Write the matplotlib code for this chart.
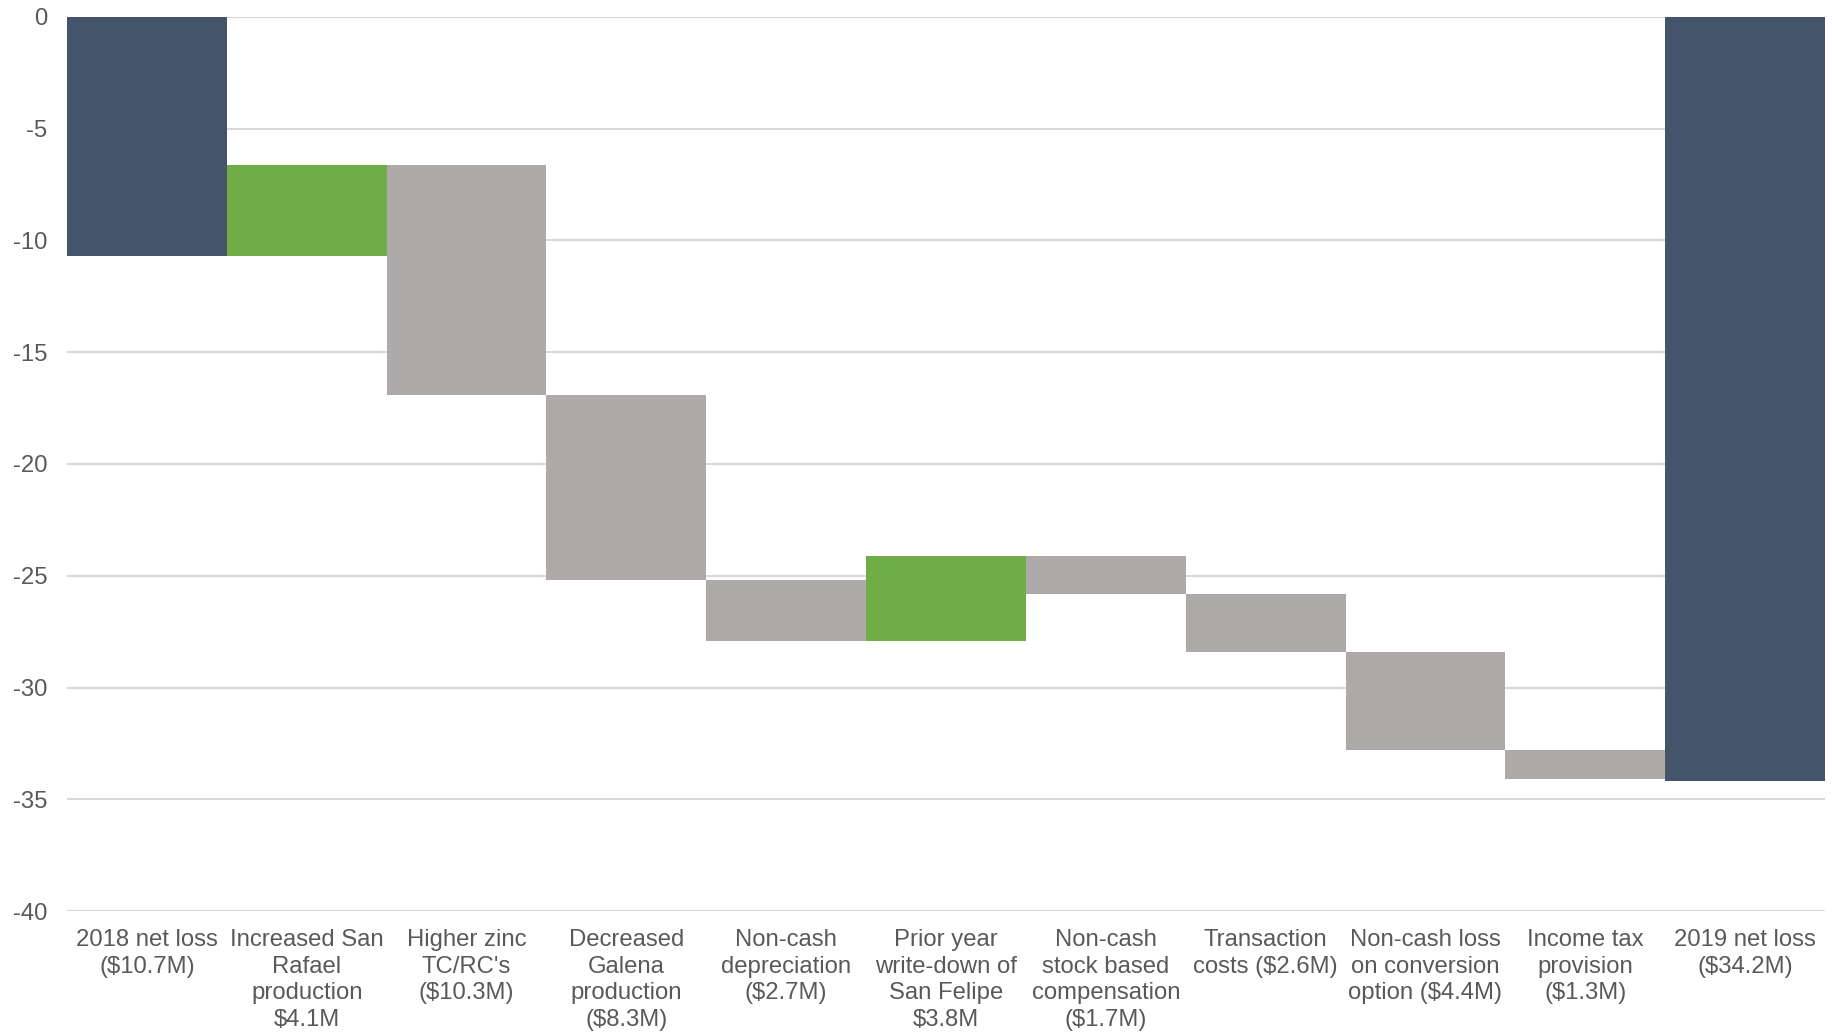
import numpy as np
import matplotlib.pyplot as plt

plt.rcParams['font.family'] = ['Liberation Sans', 'DejaVu Sans']
plt.rcParams['axes.unicode_minus'] = False

labels = ["2018 net loss\n($10.7M)", "Increased San\nRafael\nproduction\n$4.1M",
          "Higher zinc\nTC/RC's\n($10.3M)", "Decreased\nGalena\nproduction\n($8.3M)",
          "Non-cash\ndepreciation\n($2.7M)", "Prior year\nwrite-down of\nSan Felipe\n$3.8M",
          "Non-cash\nstock based\ncompensation\n($1.7M)", "Transaction\ncosts ($2.6M)",
          "Non-cash loss\non conversion\noption ($4.4M)", "Income tax\nprovision\n($1.3M)",
          "2019 net loss\n($34.2M)"]
start_value = -10.7
changes = [4.1, -10.3, -8.3, -2.7, 3.8, -1.7, -2.6, -4.4, -1.3]
end_value = -34.2

c_total = '#44546A'
c_up = '#70AD47'
c_down = '#AEAAAA'

bottoms = [0]
heights = [start_value]
colors = [c_total]
level = start_value
for ch in changes:
    bottoms.append(level)
    heights.append(ch)
    colors.append(c_up if ch > 0 else c_down)
    level += ch
bottoms.append(0)
heights.append(end_value)
colors.append(c_total)

fig = plt.figure(figsize=(18.33, 10.36), dpi=100)
ax = fig.add_axes([67 / 1833, 1 - 911 / 1036, (1825 - 67) / 1833, (911 - 17) / 1036])
x = np.arange(len(labels))
ax.bar(x, heights, bottom=bottoms, width=1.0, color=colors, zorder=2)

ax.set_xlim(-0.5, len(labels) - 0.5)
ax.set_ylim(-40, 0)
ax.set_yticks(range(-40, 1, 5))
ax.yaxis.grid(True, color='#D9D9D9', linewidth=1.5, zorder=0)
ax.set_xticks(x)
ax.set_xticklabels(labels, fontsize=17.2, color='#595959', linespacing=1.27, va='top')
ax.tick_params(axis='y', labelsize=17.2, labelcolor='#595959', length=0, pad=14)
ax.tick_params(axis='x', length=0, pad=13)
for s in ax.spines.values():
    s.set_visible(False)

fig.savefig('out.png', dpi=100)
